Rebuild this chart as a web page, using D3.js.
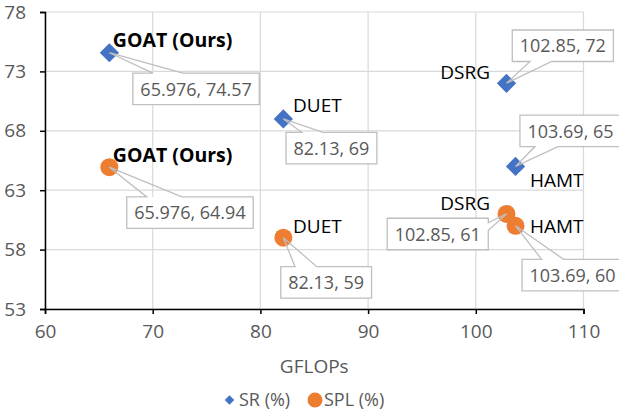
<!DOCTYPE html>
<html>
<head>
<meta charset="utf-8">
<script src="https://cdn.jsdelivr.net/npm/d3@7"></script>
<style>
  html, body { margin: 0; padding: 0; background: #fff; }
  svg { display: block; font-family: 'Open Sans', sans-serif; }
</style>
</head>
<body>
<script>
// values
const methods = ['GOAT (Ours)', 'DUET', 'DSRG', 'HAMT'];
const gflops = [65.976, 82.13, 102.85, 103.69];
const srValues = [74.57, 69, 72, 65];
const splValues = [64.94, 59, 61, 60];
const xTicks = [60, 70, 80, 90, 100, 110];
const yTicks = [53, 58, 63, 68, 73, 78];

// label placement (pixels relative to each point)
const srLayout = [
	{ anchor: 'start', nx: 3.5, ny: -6, bx: 23.5, by: 20.3, side: 'top', w1: 20, w2: 50 },
	{ anchor: 'start', nx: 9.7, ny: -7, bx: 2.7, by: 13.4, side: 'top', w1: 15.7, w2: 37 },
	{ anchor: 'end', nx: -16.5, ny: -4.3, bx: 5.8, by: -53.3, side: 'bottom', w1: 17.7, w2: 39.4 },
	{ anchor: 'start', nx: 14.4, ny: 20.6, bx: 4.4, by: -51.4, side: 'bottom', w1: 15, w2: 38 },
];
const splLayout = [
	{ anchor: 'start', nx: 3.5, ny: -5.5, bx: 17.4, by: 29.8, side: 'top', w1: 20, w2: 55 },
	{ anchor: 'start', nx: 9.7, ny: -4.7, bx: -2.6, by: 29, side: 'top', w1: 14.3, w2: 36 },
	{ anchor: 'end', nx: -16.5, ny: -4, bx: -18.2, by: 4.3, side: 'right', w1: 4.5, w2: 12 },
	{ anchor: 'start', nx: 14.4, ny: 6.9, bx: 6.5, by: 33.5, side: 'top', w1: 19.6, w2: 41.6 },
];

const width = 619;
const height = 412;
const margin = { left: 45, right: 35.5, top: 12, bottom: 103 };
const blue = '#4472C4';
const orange = '#ED7D31';
const gray = '#595959';
const fontSize = '19px';
const labelSize = '18px';

const x = d3.scaleLinear().domain([60, 110]).range([margin.left, width - margin.right]);
const y = d3.scaleLinear().domain([53, 78]).range([height - margin.bottom, margin.top]);

const svg = d3.select('body').append('svg').attr('width', width).attr('height', height);

// gridlines
svg.append('g')
	.selectAll('line')
	.data(xTicks)
	.join('line')
	.attr('x1', (d) => x(d))
	.attr('x2', (d) => x(d))
	.attr('y1', y(53))
	.attr('y2', y(78))
	.attr('stroke', '#d9d9d9')
	.attr('stroke-width', 1.2);
svg.append('g')
	.selectAll('line')
	.data(yTicks)
	.join('line')
	.attr('x1', x(60))
	.attr('x2', x(110))
	.attr('y1', (d) => y(d))
	.attr('y2', (d) => y(d))
	.attr('stroke', '#d9d9d9')
	.attr('stroke-width', 1.2);

// axes
const xAxis = svg.append('g')
	.attr('transform', `translate(0,${y(53)})`)
	.call(d3.axisBottom(x).tickValues(xTicks).tickSize(5).tickPadding(11));
const yAxis = svg.append('g')
	.attr('transform', `translate(${x(60)},0)`)
	.call(d3.axisLeft(y).tickValues(yTicks).tickSize(5).tickPadding(14));
[xAxis, yAxis].forEach((a) => {
	a.select('.domain').attr('stroke', '#000').attr('stroke-width', 1.5);
	a.selectAll('.tick line').attr('stroke', '#000').attr('stroke-width', 1.5);
	a.selectAll('.tick text')
		.attr('fill', gray)
		.style('font-size', fontSize)
		.style('font-family', "'Open Sans', sans-serif");
});

svg.append('text')
	.attr('x', (x(60) + x(110)) / 2)
	.attr('y', 373)
	.attr('text-anchor', 'middle')
	.attr('fill', gray)
	.style('font-size', fontSize)
	.text('GFLOPs');

// markers
const diamond = d3.symbol(d3.symbolSquare, 185);
svg.append('g')
	.selectAll('path')
	.data(methods)
	.join('path')
	.attr('d', diamond)
	.attr('transform', (d, i) => `translate(${x(gflops[i])},${y(srValues[i])}) rotate(45)`)
	.attr('fill', blue);
svg.append('g')
	.selectAll('circle')
	.data(methods)
	.join('circle')
	.attr('cx', (d, i) => x(gflops[i]))
	.attr('cy', (d, i) => y(splValues[i]))
	.attr('r', 9)
	.attr('fill', orange);

// labels
function drawLabels(values, layout) {
	methods.forEach((name, i) => {
		const px = x(gflops[i]);
		const py = y(values[i]);
		const L = layout[i];
		svg.append('text')
			.attr('x', px + L.nx)
			.attr('y', py + L.ny)
			.attr('text-anchor', L.anchor)
			.attr('fill', '#000')
			.style('font-size', i === 0 ? '19.5px' : fontSize)
			.style('font-weight', i === 0 ? 'bold' : 'normal')
			.text(name);

		const g = svg.append('g');
		const bg = g.append('rect');
		const outline = g.append('path');
		const t = g.append('text')
			.attr('fill', gray)
			.style('font-size', labelSize)
			.text(`${gflops[i]}, ${values[i]}`);
		const tw = t.node().getComputedTextLength();
		const w = tw + 15;
		const h = 31.5;
		const x0 = L.side === 'right' ? px + L.bx - w : px + L.bx;
		const y0 = py + L.by;
		const x1 = x0 + w;
		const y1 = y0 + h;
		t.attr('x', x0 + 7.5).attr('y', y0 + 22.5);
		bg.attr('x', x0).attr('y', y0).attr('width', w).attr('height', h).attr('fill', '#fff');
		let pts;
		if (L.side === 'top') {
			pts = [[x0, y0], [x0 + L.w1, y0], [px, py], [x0 + L.w2, y0], [x1, y0], [x1, y1], [x0, y1]];
		} else if (L.side === 'bottom') {
			pts = [[x0, y0], [x1, y0], [x1, y1], [x0 + L.w2, y1], [px, py], [x0 + L.w1, y1], [x0, y1]];
		} else {
			pts = [[x0, y0], [x1, y0], [x1, y0 + L.w1], [px, py], [x1, y0 + L.w2], [x1, y1], [x0, y1]];
		}
		outline.attr('d', d3.line()(pts) + 'Z')
			.attr('fill', 'none')
			.attr('stroke', '#bfbfbf')
			.attr('stroke-width', 1.3);
	});
}
drawLabels(srValues, srLayout);
drawLabels(splValues, splLayout);

// legend
const legend = svg.append('g').style('font-size', labelSize);
legend.append('path')
	.attr('d', d3.symbol(d3.symbolSquare, 45))
	.attr('transform', 'translate(229.5,400) rotate(45)')
	.attr('fill', blue);
legend.append('text').attr('x', 239).attr('y', 406).attr('fill', gray).text('SR (%)');
legend.append('circle').attr('cx', 315).attr('cy', 400).attr('r', 7.5).attr('fill', orange);
legend.append('text').attr('x', 324).attr('y', 406).attr('fill', gray).text('SPL (%)');
</script>
</body>
</html>
